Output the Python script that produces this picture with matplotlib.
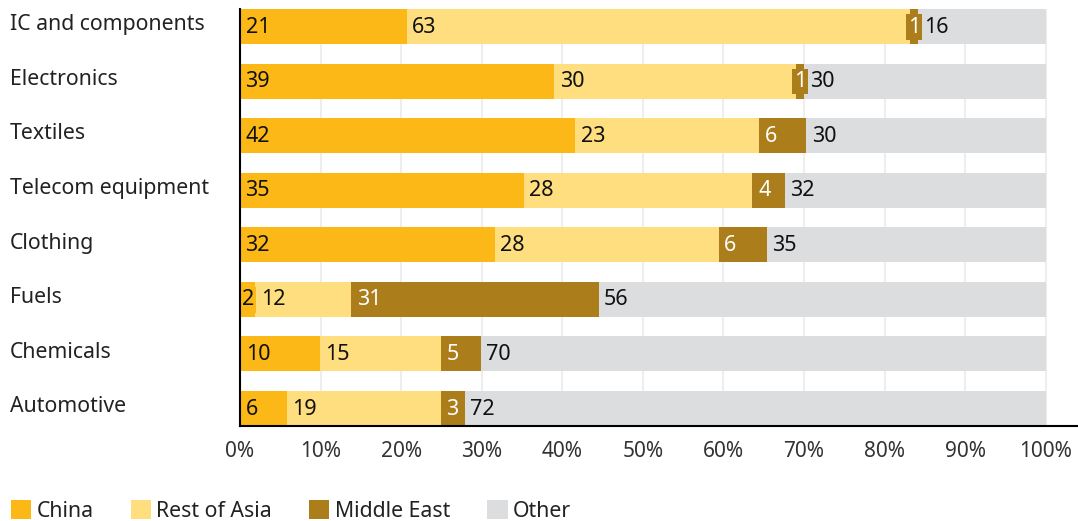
import matplotlib
matplotlib.use("Agg")
import matplotlib.pyplot as plt
import numpy as np

plt.rcParams['font.family'] = ['Noto Sans', 'DejaVu Sans']

categories = ["IC and components", "Electronics", "Textiles", "Telecom equipment",
              "Clothing", "Fuels", "Chemicals", "Automotive"]

# shares in %
china = [20.7, 39.0, 41.6, 35.2, 31.6, 1.9, 9.9, 5.8]
rest_of_asia = [62.4, 30.0, 22.8, 28.4, 27.8, 11.9, 15.0, 19.1]
middle_east = [1.1, 1.0, 5.9, 4.0, 6.0, 30.7, 5.0, 3.0]
other = [15.8, 30.0, 29.7, 32.4, 34.6, 55.5, 70.1, 72.1]

# numbers printed on the bars
china_lbl = [21, 39, 42, 35, 32, 2, 10, 6]
rest_lbl = [63, 30, 23, 28, 28, 12, 15, 19]
me_lbl = [1, 1, 6, 4, 6, 31, 5, 3]
other_lbl = [16, 30, 30, 32, 35, 56, 70, 72]

series = [("China", china, china_lbl, "#fbb817", "#111111"),
          ("Rest of Asia", rest_of_asia, rest_lbl, "#fede7f", "#111111"),
          ("Middle East", middle_east, me_lbl, "#ab7e1b", "#ffffff"),
          ("Other", other, other_lbl, "#dcdddf", "#111111")]

fig = plt.figure(figsize=(10.78, 5.21), dpi=100)
ax = fig.add_axes([240 / 1078, 1 - 426 / 521, 838 / 1078, 417 / 521])

y = np.arange(len(categories))
bh = 0.64
left = np.zeros(len(categories))
handles = []
for name, vals, lbls, col, tcol in series:
    h = ax.barh(y, vals, left=left, height=bh, color=col, zorder=2, label=name)
    handles.append(h)
    for i, (v, lab) in enumerate(zip(vals, lbls)):
        if v < 2.5:
            # tiny segment: centred label with a box in the segment colour
            ax.text(left[i] + v / 2, y[i] + 0.01, str(lab), ha="center", va="center",
                    fontsize=15.5, color=tcol, zorder=4,
                    bbox=dict(boxstyle="square,pad=0.1", fc=col, ec="none"))
        else:
            ax.annotate(str(lab), (left[i], y[i] + 0.01), xytext=(4, 0),
                        textcoords="offset points", ha="left", va="center",
                        fontsize=15.5, color=tcol, zorder=4)
    left = left + np.array(vals)

ax.set_xlim(0, 104)
ax.set_ylim(len(categories) - 1 + bh / 2, -bh / 2)
ax.set_xticks(np.arange(0, 101, 10))
ax.set_xticklabels([f"{t}%" for t in range(0, 101, 10)], fontsize=15, color="#333333")
ax.tick_params(axis="x", length=0, pad=11)
ax.set_yticks([])
for yy, cat in zip(y, categories):
    ax.text(-230 / 838, yy - 0.03, cat, transform=ax.get_yaxis_transform(), ha="left",
            va="center", fontsize=15.3, color="#222222")

ax.grid(axis="x", color="#eeeeee", linewidth=1.5, zorder=0)
for s in ["top", "right"]:
    ax.spines[s].set_visible(False)
ax.spines["left"].set_linewidth(1.5)
ax.spines["bottom"].set_linewidth(1.5)
ax.spines["left"].set_zorder(5)
ax.spines["bottom"].set_zorder(5)

fig.legend(handles=handles, labels=[s[0] for s in series], loc="lower left",
           bbox_to_anchor=(11 / 1078, -1 / 521), ncol=4, frameon=False, fontsize=15.3,
           handlelength=0.95, handleheight=1.0, handletextpad=0.25, columnspacing=1.75,
           borderpad=0, borderaxespad=0, labelcolor="#222222")

fig.savefig("out.png", dpi=100)
